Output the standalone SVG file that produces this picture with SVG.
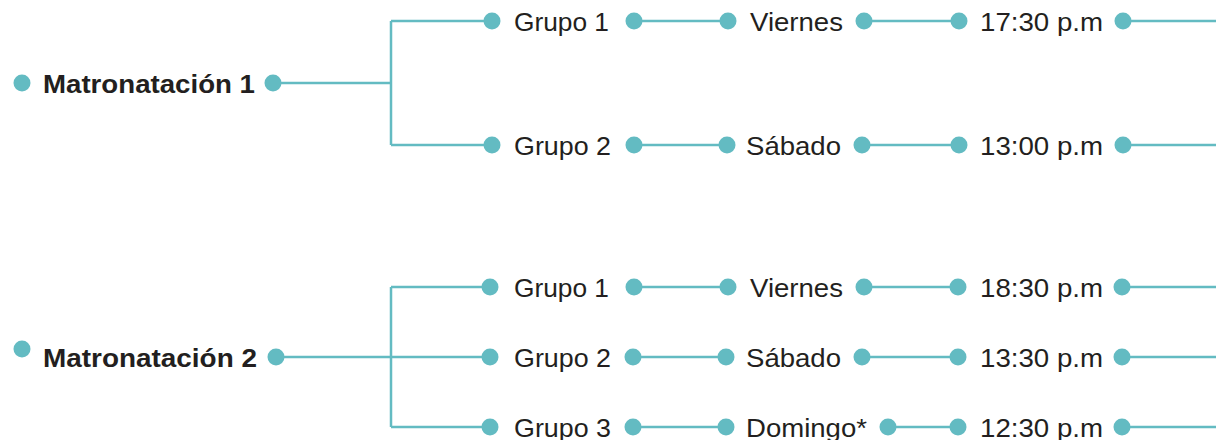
<svg xmlns="http://www.w3.org/2000/svg" width="1216" height="440" viewBox="0 0 1216 440">
<style>
.c{stroke:#63bbc2;stroke-width:2.5;fill:none}
.d{fill:#63bbc2}
.t{font-family:"Liberation Sans",Arial,sans-serif;font-size:26.5px;fill:#231f20}
.b{font-weight:bold;font-size:26px}
</style>
<rect width="1216" height="440" fill="#fff"/>
<g id="connectors">
<path class="c" d="M273 83H391M391 21V145M391 21H492M391 145H492"/>
<path class="c" d="M634 21H728M864 21H959M1123 21H1216"/>
<path class="c" d="M634 145H727M862 145H959M1123 145H1216"/>
<path class="c" d="M276 357H490M391 287V427M391 287H490M391 427H490"/>
<path class="c" d="M634 287H728M864 287H958M1122 287H1216"/>
<path class="c" d="M633 357H726M862 357H958M1122 357H1216"/>
<path class="c" d="M633 427H726M888 427H958M1122 427H1216"/>
</g>
<g id="m1"><circle class="d" cx="22" cy="83" r="8.5"/><text class="t b" x="43" y="92.5" textLength="212" lengthAdjust="spacingAndGlyphs">Matronatación 1</text><circle class="d" cx="273" cy="83" r="8.5"/></g>
<g id="m1g1"><circle class="d" cx="492" cy="21" r="8.5"/><text class="t" x="514" y="30.5" textLength="95" lengthAdjust="spacingAndGlyphs">Grupo 1</text><circle class="d" cx="634" cy="21" r="8.5"/></g>
<g id="m1v"><circle class="d" cx="728" cy="21" r="8.5"/><text class="t" x="750" y="30.5" textLength="93" lengthAdjust="spacingAndGlyphs">Viernes</text><circle class="d" cx="864" cy="21" r="8.5"/></g>
<g id="m1h1"><circle class="d" cx="959" cy="21" r="8.5"/><text class="t" x="980" y="30.5" textLength="123" lengthAdjust="spacingAndGlyphs">17:30 p.m</text><circle class="d" cx="1123" cy="21" r="8.5"/></g>
<g id="m1g2"><circle class="d" cx="492" cy="145" r="8.5"/><text class="t" x="514" y="154.5" textLength="97" lengthAdjust="spacingAndGlyphs">Grupo 2</text><circle class="d" cx="634" cy="145" r="8.5"/></g>
<g id="m1s"><circle class="d" cx="727" cy="145" r="8.5"/><text class="t" x="746" y="154.5" textLength="95" lengthAdjust="spacingAndGlyphs">Sábado</text><circle class="d" cx="862" cy="145" r="8.5"/></g>
<g id="m1h2"><circle class="d" cx="959" cy="145" r="8.5"/><text class="t" x="980" y="154.5" textLength="123" lengthAdjust="spacingAndGlyphs">13:00 p.m</text><circle class="d" cx="1123" cy="145" r="8.5"/></g>
<g id="m2"><circle class="d" cx="22" cy="349" r="8.5"/><text class="t b" x="43" y="366.5" textLength="214" lengthAdjust="spacingAndGlyphs">Matronatación 2</text><circle class="d" cx="276" cy="357" r="8.5"/></g>
<g id="m2g1"><circle class="d" cx="490" cy="287" r="8.5"/><text class="t" x="514" y="296.5" textLength="95" lengthAdjust="spacingAndGlyphs">Grupo 1</text><circle class="d" cx="634" cy="287" r="8.5"/></g>
<g id="m2v"><circle class="d" cx="728" cy="287" r="8.5"/><text class="t" x="750" y="296.5" textLength="93" lengthAdjust="spacingAndGlyphs">Viernes</text><circle class="d" cx="864" cy="287" r="8.5"/></g>
<g id="m2h1"><circle class="d" cx="958" cy="287" r="8.5"/><text class="t" x="980" y="296.5" textLength="123" lengthAdjust="spacingAndGlyphs">18:30 p.m</text><circle class="d" cx="1122" cy="287" r="8.5"/></g>
<g id="m2g2"><circle class="d" cx="490" cy="357" r="8.5"/><text class="t" x="514" y="366.5" textLength="97" lengthAdjust="spacingAndGlyphs">Grupo 2</text><circle class="d" cx="633" cy="357" r="8.5"/></g>
<g id="m2s"><circle class="d" cx="726" cy="357" r="8.5"/><text class="t" x="746" y="366.5" textLength="95" lengthAdjust="spacingAndGlyphs">Sábado</text><circle class="d" cx="862" cy="357" r="8.5"/></g>
<g id="m2h2"><circle class="d" cx="958" cy="357" r="8.5"/><text class="t" x="980" y="366.5" textLength="123" lengthAdjust="spacingAndGlyphs">13:30 p.m</text><circle class="d" cx="1122" cy="357" r="8.5"/></g>
<g id="m2g3"><circle class="d" cx="490" cy="427" r="8.5"/><text class="t" x="514" y="436.5" textLength="97" lengthAdjust="spacingAndGlyphs">Grupo 3</text><circle class="d" cx="633" cy="427" r="8.5"/></g>
<g id="m2d"><circle class="d" cx="726" cy="427" r="8.5"/><text class="t" x="746" y="436.5" textLength="121" lengthAdjust="spacingAndGlyphs">Domingo*</text><circle class="d" cx="888" cy="427" r="8.5"/></g>
<g id="m2h3"><circle class="d" cx="958" cy="427" r="8.5"/><text class="t" x="980" y="436.5" textLength="123" lengthAdjust="spacingAndGlyphs">12:30 p.m</text><circle class="d" cx="1122" cy="427" r="8.5"/></g>
</svg>
